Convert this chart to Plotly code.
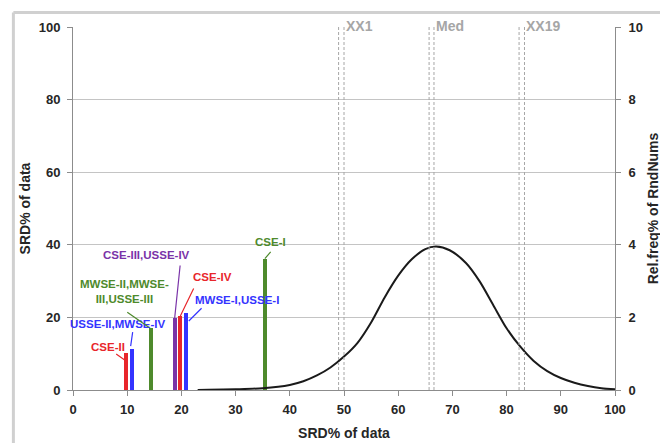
import plotly.graph_objects as go

# ---------------- data ----------------
bar_labels = ["CSE-II", "USSE-II,MWSE-IV", "MWSE-II,MWSE-<br>III,USSE-III",
              "CSE-III,USSE-IV", "CSE-IV", "MWSE-I,USSE-I", "CSE-I"]
bar_x = [9.85, 10.95, 14.35, 18.75, 19.8, 20.9, 35.4]
bar_y = [10.2, 11.4, 17.0, 19.7, 20.4, 21.2, 36.2]

curve_x = [23, 25, 30, 35, 40, 42.5, 45, 47.5, 50, 52.5, 55, 57.5, 60, 62.5, 65,
           67, 69.5, 72.5, 75, 77.5, 80, 82.5, 85, 87.5, 90, 92.5, 95, 97.5, 100]
curve_y = [0.0, 0.005, 0.02, 0.05, 0.14, 0.24, 0.40, 0.62, 0.92, 1.30, 1.86, 2.55,
           3.15, 3.60, 3.88, 3.95, 3.85, 3.50, 3.00, 2.35, 1.70, 1.20, 0.80, 0.52,
           0.33, 0.20, 0.11, 0.05, 0.02]

ref_names = ["XX1", "Med", "XX19"]
ref_x_pairs = [[49.0, 50.0], [65.7, 66.6], [82.3, 83.3]]

x_ticks = [0, 10, 20, 30, 40, 50, 60, 70, 80, 90, 100]
y_ticks = [0, 20, 40, 60, 80, 100]
y2_ticks = [0, 2, 4, 6, 8, 10]

# ---------------- styles ----------------
RED, BLUE, GREEN, PURPLE = "#e8262b", "#3434ff", "#4e8a2c", "#7a33a8"
bar_colors = [RED, BLUE, GREEN, PURPLE, RED, BLUE, GREEN]
# per label: text offset (dx, dy), leader head offset (hx, hy), tail (ax, ay) in px
label_style = [
    dict(t=(-18, -6), h=(-1.7, 7), a=(-10, -7)),
    dict(t=(-14, -24.5), h=(-1.7, -2.5), a=(2.3, -16)),
    dict(t=(-26, -37), h=(-2, -1), a=(-23, -16)),
    dict(t=(-28, -63), h=(0, 0), a=(5.7, -55)),
    dict(t=(32, -39), h=(0, 0), a=(14.3, -29.4)),
    dict(t=(51, -13), h=(2.5, 8), a=(14.3, -14.3)),
    dict(t=(6, -16.5), h=(0, 0), a=(7.3, -8.4)),
]
LABEL_FONT = "Liberation Sans, Arial"
AX_FONT = "Liberation Sans, Arial"
AXC = "#8c8c8c"
TXT = "#262626"

fig = go.Figure()

fig.add_trace(go.Bar(x=bar_x, y=bar_y, width=0.75, marker_color=bar_colors,
                     marker_line_width=0, showlegend=False, yaxis="y"))

fig.add_trace(go.Scatter(x=curve_x, y=curve_y, mode="lines", yaxis="y2",
                         line=dict(color="#1a1a1a", width=2, shape="spline", smoothing=0.8),
                         showlegend=False))

for name, pair in zip(ref_names, ref_x_pairs):
    for v in pair:
        fig.add_shape(type="line", xref="x", yref="y domain", x0=v, x1=v, y0=0, y1=1,
                      line=dict(color="#a6a6a6", width=1, dash="3px,2px"), layer="above")
    fig.add_annotation(x=pair[1], y=100, xref="x", yref="y", text=name, showarrow=False,
                       xanchor="left", yanchor="middle", xshift=0, yshift=1,
                       font=dict(family=AX_FONT, size=14, color="#a6a6a6", weight="bold"))

for lab, bx, by, col, st in zip(bar_labels, bar_x, bar_y, bar_colors, label_style):
    fig.add_annotation(x=bx, y=by, xref="x", yref="y", text=lab, showarrow=False,
                       xanchor="center", yanchor="middle",
                       xshift=st["t"][0], yshift=-st["t"][1],
                       font=dict(family=LABEL_FONT, size=11.5, color=col, weight="bold"))
    fig.add_annotation(x=bx, y=by, xref="x", yref="y", text=" ", showarrow=True,
                       arrowhead=0, arrowwidth=1.2, arrowcolor=col, standoff=0,
                       startstandoff=0, ax=st["a"][0], ay=st["a"][1],
                       xshift=st["h"][0], yshift=-st["h"][1], font=dict(size=1))

# outer chart border (left and top edges, the rest runs off the picture)
fig.add_shape(type="line", xref="paper", yref="paper", x0=-0.11, x1=-0.11, y0=-0.3, y1=1.04,
              line=dict(color="#d0d0d0", width=3), layer="above")
fig.add_shape(type="line", xref="paper", yref="paper", x0=-0.11, x1=1.3, y0=1.04, y1=1.04,
              line=dict(color="#d0d0d0", width=3), layer="above")

tickfont = dict(family=AX_FONT, size=13, color=TXT, weight="bold")
titlefont = dict(family=AX_FONT, size=14, color=TXT, weight="bold")

fig.update_layout(
    width=660, height=435,
    margin=dict(l=65, r=53, t=19, b=53, autoexpand=False),
    paper_bgcolor="white", plot_bgcolor="white",
    bargap=0,
    xaxis=dict(range=[0, 100], tickvals=x_ticks, showgrid=False, zeroline=False,
               showline=True, linecolor=AXC, ticks="outside", ticklen=5, tickcolor=AXC,
               tickfont=tickfont, ticklabelstandoff=2, automargin=False,
               title=dict(text="SRD% of data", font=titlefont, standoff=12)),
    yaxis=dict(range=[0, 100], tickvals=y_ticks, showgrid=True, gridcolor="#c4c4c4",
               zeroline=False, showline=True, linecolor=AXC, ticks="outside", ticklen=5,
               tickcolor=AXC, tickfont=tickfont, ticklabelstandoff=4, automargin=False,
               title=dict(text="SRD% of data", font=titlefont, standoff=4)),
    yaxis2=dict(range=[0, 10], tickvals=y2_ticks, overlaying="y", side="right",
                showgrid=False, zeroline=False, showline=True, linecolor=AXC,
                ticks="outside", ticklen=5, tickcolor=AXC, tickfont=tickfont,
                ticklabelstandoff=5, automargin=False,
                title=dict(text="Rel.freq% of RndNums", font=titlefont, standoff=6)),
)

fig.write_html("out.html",
               post_script="document.body.style.overflow='hidden';")
